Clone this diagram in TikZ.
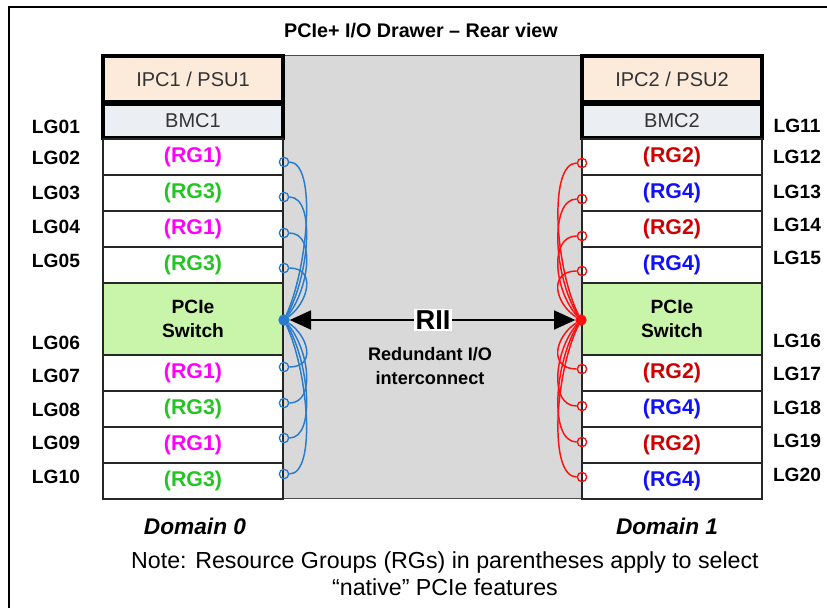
\documentclass[tikz,border=0pt]{standalone}
\usepackage{fontspec}
\setmainfont{Liberation Sans}
\usetikzlibrary{arrows.meta,calc,positioning}
\definecolor{ipcPeach}{HTML}{FCEADB}
\definecolor{bmcGrey}{HTML}{EBEFF4}
\definecolor{switchGreen}{HTML}{C9F5AA}
\definecolor{midGrey}{HTML}{D9D9D9}
\definecolor{rgMagenta}{HTML}{FF00FF}
\definecolor{rgGreen}{HTML}{22C522}
\definecolor{rgRed}{HTML}{D00000}
\definecolor{rgBlue}{HTML}{1010FF}
\definecolor{linkBlue}{HTML}{2A7BCB}
\definecolor{linkRed}{HTML}{FF1010}

\tikzset{
  slot/.style={draw=black!85,line width=1.1pt,minimum width=135pt,minimum height=27pt,
    inner sep=0pt,font=\fontsize{16}{18}\selectfont\bfseries},
  topBox/.style={draw=black,line width=3pt,minimum width=135pt,inner sep=0pt,
    text=black!80,font=\fontsize{15}{18}\selectfont},
  switchBox/.style={slot,fill=switchGreen,minimum height=54pt,align=center,
    font=\fontsize{14.4}{18}\selectfont\bfseries},
  lgLabel/.style={inner sep=0pt,font=\fontsize{14.4}{16}\selectfont\bfseries},
  port/.style={circle,draw=#1,line width=1pt,minimum size=7pt,inner sep=0pt},
  hub/.style={circle,draw=#1,fill=#1,line width=1pt,minimum size=7.5pt,inner sep=0pt},
  link/.style={draw=#1,line width=1.1pt},
  domainLabel/.style={font=\fontsize{17}{20}\selectfont\bfseries\itshape}
}

\begin{document}
\begin{tikzpicture}[x=0.75pt,y=-0.75pt]
  \useasboundingbox (0,0) rectangle (827,608);
  % frame and centre panel
  \draw[line width=1pt] (827,7) -- (9,7) -- (9,608);
  \draw[fill=midGrey,draw=black!70,line width=0.6pt] (283,55) rectangle (582,498);

  \node[font=\fontsize{14.8}{17}\selectfont\bfseries] (title) at (421,31)
    {PCIe+ I/O Drawer -- Rear view};

  % domain 0
  \node[topBox,fill=ipcPeach,minimum height=35pt] (ipcL) at (193,79) {IPC1 / PSU1};
  \node[topBox,fill=bmcGrey,minimum height=25pt] (bmcL) at (193,121) {BMC1};
  \foreach \n/\y/\t/\c in {2/157/RG1/rgMagenta,3/193/RG3/rgGreen,4/229/RG1/rgMagenta,
      5/265/RG3/rgGreen,7/373/RG1/rgMagenta,8/409/RG3/rgGreen,9/445/RG1/rgMagenta,10/481/RG3/rgGreen}
    \node[slot,fill=white,text=\c] (slotL\n) at (193,\y) {(\t)};
  \node[switchBox] (switchL) at (193,319) {PCIe\\Switch};

  % domain 1
  \node[topBox,fill=ipcPeach,minimum height=35pt] (ipcR) at (672,79) {IPC2 / PSU2};
  \node[topBox,fill=bmcGrey,minimum height=25pt] (bmcR) at (672,121) {BMC2};
  \foreach \n/\y/\t/\c in {12/157/RG2/rgRed,13/193/RG4/rgBlue,14/229/RG2/rgRed,
      15/265/RG4/rgBlue,17/373/RG2/rgRed,18/409/RG4/rgBlue,19/445/RG2/rgRed,20/481/RG4/rgBlue}
    \node[slot,fill=white,text=\c] (slotR\n) at (672,\y) {(\t)};
  \node[switchBox] (switchR) at (672,319) {PCIe\\Switch};

  % LG labels
  \foreach \n/\y in {01/127,02/158,03/193,04/227,05/261,06/343,07/376,08/410,09/443,10/477}
    \node[lgLabel] (lg\n) at (56,\y) {LG\n};
  \foreach \n/\y in {11/126,12/157,13/192,14/225,15/258,16/341,17/374,18/408,19/441,20/475}
    \node[lgLabel] (lg\n) at (797,\y) {LG\n};

  % fan-out links
  \node[hub=linkBlue] (hubL) at (284,320) {};
  \node[hub=linkRed] (hubR) at (581,320) {};
  \foreach \n/\y in {1/162,2/197,3/233,4/268,5/367,6/403,7/438,8/474} {
    \node[port=linkBlue] (pL\n) at (284,\y) {};
    \draw[link=linkBlue] (pL\n) .. controls +(33,0) and +(24,{(\y-320)/3}) .. (hubL);
  }
  \foreach \n/\y in {1/163,2/199,3/236,4/271,5/369,6/406,7/442,8/477} {
    \node[port=linkRed] (pR\n) at (582,\y) {};
    \draw[link=linkRed] (pR\n) .. controls +(-34,0) and +(-26,{(\y-320)/3}) .. (hubR);
  }

  % RII
  \draw[{Triangle[length=16pt,width=14pt]}-{Triangle[length=16pt,width=14pt]},line width=2.2pt]
    (hubL) -- (hubR);
  \node[fill=white,inner sep=1.5pt,font=\fontsize{20.5}{22}\selectfont\bfseries] (rii) at (433,320) {RII};
  \node[align=center,font=\fontsize{13.6}{18}\selectfont\bfseries] (riiText) at (430,366)
    {Redundant I/O\\interconnect};

  \node[domainLabel] (dom0) at (195,526) {Domain 0};
  \node[domainLabel] (dom1) at (667,526) {Domain 1};
  \node[align=center,font=\fontsize{17.4}{20.3}\selectfont] (note) at (445,574)
    {Note: Resource Groups (RGs) in parentheses apply to select\\“native” PCIe features};
\end{tikzpicture}
\end{document}
